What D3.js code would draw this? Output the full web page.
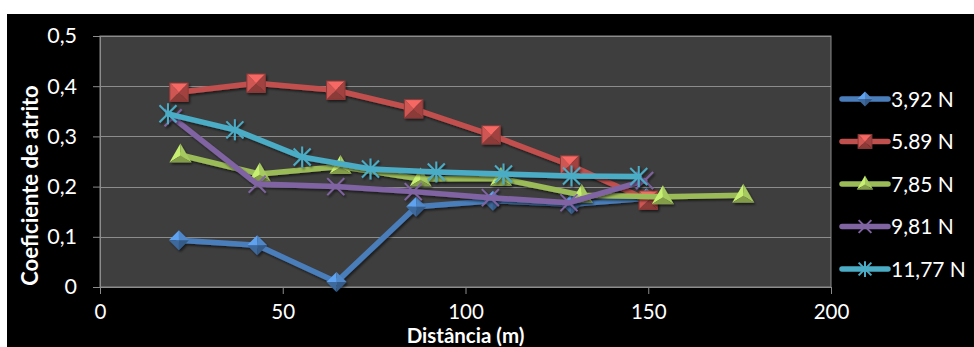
<!DOCTYPE html>
<html>
<head>
<meta charset="utf-8">
<script src="https://cdn.jsdelivr.net/npm/d3@7"></script>
<style>
  html, body { margin: 0; padding: 0; background: #fff; }
  svg { display: block; font-family: Lato, "Open Sans", sans-serif; }
</style>
</head>
<body>
<svg id="chart" width="974" height="347"></svg>
<script>
// Friction coefficient versus sliding distance for five normal loads
const seriesNames = ["3,92 N", "5.89 N", "7,85 N", "9,81 N", "11,77 N"];
const seriesColors = ["#4a7ebb", "#c0504d", "#9bbb59", "#8064a2", "#4bacc6"];
const seriesShapes = ["diamond", "square", "triangle", "x", "star"];

const dist392 = [21.6, 43.0, 64.7, 86.5, 107.5, 129.0, 149.5];
const mu392   = [0.093, 0.083, 0.010, 0.160, 0.172, 0.165, 0.177];

const dist589 = [21.6, 42.7, 64.5, 85.8, 107.0, 128.5, 150.0];
const mu589   = [0.388, 0.406, 0.392, 0.355, 0.303, 0.243, 0.173];

const dist785 = [22.0, 43.7, 65.8, 87.7, 109.7, 131.8, 154.0, 176.0];
const mu785   = [0.263, 0.225, 0.240, 0.215, 0.216, 0.183, 0.180, 0.183];

const dist981 = [20.0, 43.0, 64.5, 85.7, 106.8, 128.3, 149.0];
const mu981   = [0.337, 0.205, 0.200, 0.190, 0.178, 0.168, 0.212];

const dist1177 = [18.6, 36.9, 55.3, 74.0, 92.0, 110.4, 129.0, 147.4];
const mu1177   = [0.345, 0.313, 0.259, 0.235, 0.229, 0.225, 0.221, 0.220];

const xTicks = [0, 50, 100, 150, 200];
const yTicks = [0, 0.1, 0.2, 0.3, 0.4, 0.5];
const xTitle = "Distância (m)";
const yTitle = "Coeficiente de atrito";

const seriesX = [dist392, dist589, dist785, dist981, dist1177];
const seriesY = [mu392, mu589, mu785, mu981, mu1177];
const series = seriesNames.map((name, i) => ({
  name, color: seriesColors[i], shape: seriesShapes[i],
  points: seriesX[i].map((d, j) => ({ x: d, y: seriesY[i][j] }))
}));

const svg = d3.select("#chart");
const plot = { left: 100, right: 831, top: 36, bottom: 287 };

const x = d3.scaleLinear().domain([0, 200]).range([plot.left, plot.right]);
const y = d3.scaleLinear().domain([0, 0.5]).range([plot.bottom, plot.top]);
const fmt = d => d3.format(".1f")(d).replace(".", ",").replace(/^0,0$/, "0");

// drop shadow used by lines and markers
const defs = svg.append("defs");
const sh = defs.append("filter").attr("id", "shadow")
  .attr("x", "-30%").attr("y", "-30%").attr("width", "160%").attr("height", "160%");
sh.append("feDropShadow").attr("dx", 1.5).attr("dy", 2).attr("stdDeviation", 1.2)
  .attr("flood-color", "#000").attr("flood-opacity", 0.55);

// background
svg.append("rect").attr("x", 7).attr("y", 14).attr("width", 967).attr("height", 333).attr("fill", "#000");
svg.append("rect").attr("x", plot.left).attr("y", plot.top)
  .attr("width", plot.right - plot.left).attr("height", plot.bottom - plot.top)
  .attr("fill", "#3e3e3e").attr("stroke", "#8a8a8a").attr("stroke-width", 1);

// gridlines
svg.append("g").selectAll("line").data(yTicks.slice(1)).join("line")
  .attr("x1", plot.left).attr("x2", plot.right)
  .attr("y1", d => Math.round(y(d)) + 0.5).attr("y2", d => Math.round(y(d)) + 0.5)
  .attr("stroke", "#8c8c8c").attr("stroke-width", 1);

// axes
const yAxis = svg.append("g").attr("transform", `translate(${plot.left},0)`)
  .call(d3.axisLeft(y).tickValues(yTicks).tickFormat(fmt).tickSize(7).tickPadding(16));
const xAxis = svg.append("g").attr("transform", `translate(0,${plot.bottom})`)
  .call(d3.axisBottom(x).tickValues(xTicks).tickFormat(d3.format("d")).tickSize(7).tickPadding(10));
yAxis.selectAll(".tick text").attr("font-size", 21.5);
xAxis.selectAll(".tick text").attr("font-size", 20.5);
[yAxis, xAxis].forEach(g => {
  g.select(".domain").attr("stroke", "#8c8c8c");
  g.selectAll(".tick line").attr("stroke", "#8c8c8c");
  g.selectAll(".tick text").attr("fill", "#fff").attr("font-family", "Lato, sans-serif");
});

// axis titles
svg.append("text").attr("x", (plot.left + plot.right) / 2).attr("y", 342.5)
  .attr("text-anchor", "middle").attr("fill", "#fff").attr("font-weight", "bold")
  .attr("font-size", 20.5).text(xTitle);
svg.append("text").attr("transform", `translate(38,${(plot.top + plot.bottom) / 2 + 24}) rotate(-90)`)
  .attr("text-anchor", "middle").attr("fill", "#fff").attr("font-weight", "bold")
  .attr("font-size", 22).text(yTitle);

// bevelled marker shapes
function drawMarker(g, shape, color, s) {
  const c = d3.color(color);
  const light = c.brighter(0.7).formatHex(), mid = c.brighter(0.2).formatHex();
  const dark = c.darker(0.5).formatHex(), darker = c.darker(0.9).formatHex();
  const tri = (pts, fill) => g.append("path")
    .attr("d", "M" + pts.map(p => p.join(",")).join("L") + "Z").attr("fill", fill);
  if (shape === "diamond") {
    const r = s;
    tri([[-r, 0], [0, -r], [0, 0]], light);
    tri([[0, -r], [r, 0], [0, 0]], mid);
    tri([[r, 0], [0, r], [0, 0]], darker);
    tri([[0, r], [-r, 0], [0, 0]], dark);
  } else if (shape === "square") {
    const r = s * 0.92;
    tri([[-r, -r], [r, -r], [0, 0]], light);
    tri([[r, -r], [r, r], [0, 0]], dark);
    tri([[r, r], [-r, r], [0, 0]], darker);
    tri([[-r, r], [-r, -r], [0, 0]], mid);
    g.append("rect").attr("x", -r).attr("y", -r).attr("width", 2 * r).attr("height", 2 * r)
      .attr("fill", "none").attr("stroke", darker).attr("stroke-width", 1);
  } else if (shape === "triangle") {
    const h = s * 1.15, w = s * 1.1, b = s * 0.75;
    const cy = (-h + 2 * b) / 3 * 0.5;
    tri([[0, -h], [-w, b], [0, cy]], light);
    tri([[0, -h], [w, b], [0, cy]], mid);
    tri([[-w, b], [w, b], [0, cy]], dark);
  } else if (shape === "x") {
    const r = s * 0.85;
    g.append("path").attr("d", `M${-r},${-r}L${r},${r}M${-r},${r}L${r},${-r}`)
      .attr("stroke", color).attr("stroke-width", 2).attr("fill", "none");
  } else if (shape === "star") {
    const r = s * 0.85, v = s * 1.05;
    g.append("path").attr("d", `M${-r},${-r}L${r},${r}M${-r},${r}L${r},${-r}M0,${-v}L0,${v}`)
      .attr("stroke", color).attr("stroke-width", 2).attr("fill", "none");
  }
}

const line = d3.line().x(d => x(d.x)).y(d => y(d.y));

// series: lines with markers, later series drawn on top
series.forEach(s => {
  const g = svg.append("g").attr("filter", "url(#shadow)");
  g.append("path").datum(s.points).attr("d", line)
    .attr("fill", "none").attr("stroke", s.color).attr("stroke-width", 5.5)
    .attr("stroke-linejoin", "round").attr("stroke-linecap", "round");
  g.selectAll("g.m").data(s.points).join("g").attr("class", "m")
    .attr("transform", d => `translate(${x(d.x)},${y(d.y)})`)
    .each(function () { drawMarker(d3.select(this), s.shape, s.color, 10); });
});

// legend
const legend = svg.append("g");
series.forEach((s, i) => {
  const cy = 99 + i * 42.5;
  const g = legend.append("g").attr("transform", `translate(842,${cy})`);
  g.append("line").attr("x1", 0).attr("x2", 46).attr("y1", 0).attr("y2", 0)
    .attr("stroke", s.color).attr("stroke-width", 5.5).attr("stroke-linecap", "round");
  const m = g.append("g").attr("transform", "translate(23,0)");
  drawMarker(m, s.shape, s.color, 7.5);
  g.append("text").attr("x", 49).attr("y", 0).attr("dy", "0.36em")
    .attr("fill", "#fff").attr("font-size", 21).text(s.name);
});
</script>
</body>
</html>
